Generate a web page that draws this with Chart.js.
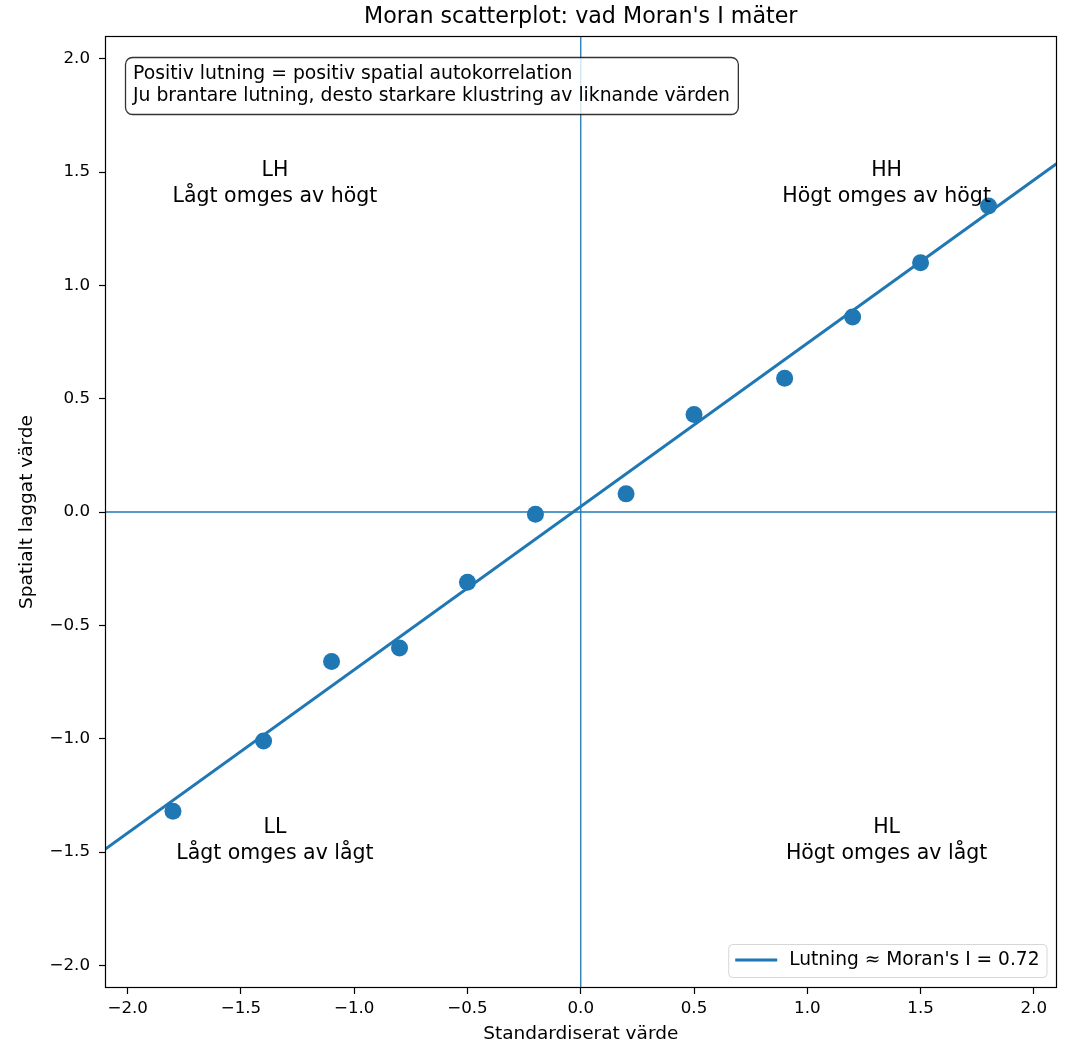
<!DOCTYPE html>
<html><head><meta charset="utf-8">
<script src="https://cdn.jsdelivr.net/npm/chart.js@4/dist/chart.umd.min.js"></script>
<style>html,body{margin:0;padding:0;background:#fff;} canvas{display:block;}</style>
</head><body>
<canvas id="c" width="1065" height="1045"></canvas>
<script>
const xValues = [-1.8, -1.4, -1.1, -0.8, -0.5, -0.2, 0.2, 0.5, 0.9, 1.2, 1.5, 1.8];
const yValues = [-1.32, -1.01, -0.66, -0.60, -0.31, -0.01, 0.08, 0.43, 0.59, 0.86, 1.10, 1.35];
const slope = 0.72;
const intercept = 0.024;
const axisMin = -2.1, axisMax = 2.1;
const tickValues = [-2.0, -1.5, -1.0, -0.5, 0.0, 0.5, 1.0, 1.5, 2.0];
const quadCodes = ['LH', 'HH', 'LL', 'HL'];
const quadTexts = ['Lågt omges av högt', 'Högt omges av högt', 'Lågt omges av lågt', 'Högt omges av lågt'];
const quadX = [-1.35, 1.35, -1.35, 1.35];
const quadY = [1.45, 1.45, -1.45, -1.45];
const titleText = "Moran scatterplot: vad Moran's I mäter";
const xLabel = 'Standardiserat värde';
const yLabel = 'Spatialt laggat värde';
const infoLines = ['Positiv lutning = positiv spatial autokorrelation', 'Ju brantare lutning, desto starkare klustring av liknande värden'];
const legendLabel = "Lutning \u2248 Moran's I = " + slope.toFixed(2);

const BLUE = '#1f77b4';
const FONT = 'DejaVu Sans';

const points = xValues.map((x, i) => ({x: x, y: yValues[i]}));
const fitLine = [axisMin, axisMax].map(x => ({x: x, y: intercept + slope * x}));

function fmt(v) {
  return (v < 0 ? '\u2212' : '') + Math.abs(v).toFixed(1);
}

function roundRect(ctx, x, y, w, h, r) {
  ctx.beginPath();
  ctx.moveTo(x + r, y);
  ctx.lineTo(x + w - r, y);
  ctx.arcTo(x + w, y, x + w, y + r, r);
  ctx.lineTo(x + w, y + h - r);
  ctx.arcTo(x + w, y + h, x + w - r, y + h, r);
  ctx.lineTo(x + r, y + h);
  ctx.arcTo(x, y + h, x, y + h - r, r);
  ctx.lineTo(x, y + r);
  ctx.arcTo(x, y, x + r, y, r);
  ctx.closePath();
}

const decor = {
  id: 'decor',
  beforeDraw(chart) {
    const ctx = chart.ctx;
    ctx.save();
    ctx.fillStyle = '#fff';
    ctx.fillRect(0, 0, chart.width, chart.height);
    ctx.restore();
  },
  afterDatasetsDraw(chart) {
    const ctx = chart.ctx;
    const a = chart.chartArea;
    const xs = chart.scales.x, ys = chart.scales.y;
    ctx.save();
    // quadrant labels
    ctx.fillStyle = '#000';
    ctx.font = '20.5px "' + FONT + '"';
    ctx.textAlign = 'center';
    ctx.textBaseline = 'middle';
    for (let i = 0; i < quadCodes.length; i++) {
      const px = xs.getPixelForValue(quadX[i]);
      const py = ys.getPixelForValue(quadY[i]);
      ctx.fillText(quadCodes[i], px, py - 13);
      ctx.fillText(quadTexts[i], px, py + 13);
    }
    // info box
    ctx.font = '18.8px "' + FONT + '"';
    ctx.textAlign = 'left';
    const bx = a.left + 20, by = a.top + 21;
    let tw = 0;
    infoLines.forEach(t => { tw = Math.max(tw, ctx.measureText(t).width); });
    const bw = tw + 16, bh = 57;
    roundRect(ctx, bx + 0.5, by + 0.5, bw, bh, 7);
    ctx.fillStyle = 'rgba(255,255,255,0.8)';
    ctx.fill();
    ctx.strokeStyle = 'rgba(0,0,0,0.8)';
    ctx.lineWidth = 1.3;
    ctx.stroke();
    ctx.fillStyle = '#000';
    ctx.fillText(infoLines[0], bx + 8, by + 17);
    ctx.fillText(infoLines[1], bx + 8, by + 39);
    // legend
    ctx.font = '18.6px "' + FONT + '"';
    const lw = ctx.measureText(legendLabel).width;
    const lx1 = a.right - 10, lx0 = lx1 - (lw + 68);
    const ly0 = a.bottom - 44, lh = 33;
    roundRect(ctx, lx0 + 0.5, ly0 + 0.5, lx1 - lx0, lh, 4);
    ctx.fillStyle = 'rgba(255,255,255,0.8)';
    ctx.fill();
    ctx.strokeStyle = '#d6d6d6';
    ctx.lineWidth = 1;
    ctx.stroke();
    ctx.beginPath();
    ctx.moveTo(lx0 + 7, ly0 + 16);
    ctx.lineTo(lx0 + 49, ly0 + 16);
    ctx.strokeStyle = BLUE;
    ctx.lineWidth = 3;
    ctx.stroke();
    ctx.fillStyle = '#000';
    ctx.fillText(legendLabel, lx0 + 61, ly0 + 16);
    // frame
    ctx.strokeStyle = '#000';
    ctx.lineWidth = 1.2;
    ctx.strokeRect(Math.round(a.left) + 0.5, Math.round(a.top) + 0.5, Math.round(a.right - a.left) - 1, Math.round(a.bottom - a.top) - 1);
    // title
    ctx.font = '22.2px "' + FONT + '"';
    ctx.textAlign = 'center';
    ctx.textBaseline = 'middle';
    ctx.fillText(titleText, (a.left + a.right) / 2, 17);
    ctx.restore();
  }
};

const tickOpts = {
  color: '#000',
  font: {family: FONT, size: 16.7},
  callback: v => fmt(v),
  autoSkip: false,
  maxRotation: 0
};

new Chart(document.getElementById('c'), {
  type: 'scatter',
  data: {
    datasets: [
      {label: legendLabel, data: fitLine, showLine: true, borderColor: BLUE, borderWidth: 3, pointRadius: 0, order: 0},
      {label: 'points', data: points, backgroundColor: BLUE, borderWidth: 0, pointRadius: 8.5, pointHoverRadius: 8.5, order: 1},
      {label: 'h0', data: [{x: axisMin, y: 0}, {x: axisMax, y: 0}], showLine: true, borderColor: BLUE, borderWidth: 1.3, pointRadius: 0, order: 2},
      {label: 'v0', data: [{x: 0, y: axisMin}, {x: 0, y: axisMax}], showLine: true, borderColor: BLUE, borderWidth: 1.3, pointRadius: 0, order: 2}
    ]
  },
  options: {
    responsive: false,
    animation: false,
    devicePixelRatio: 1,
    layout: {padding: {top: 36, right: 3, left: 0, bottom: 0}},
    plugins: {legend: {display: false}, tooltip: {enabled: false}, title: {display: false}},
    scales: {
      x: {
        type: 'linear', min: axisMin, max: axisMax,
        afterBuildTicks: s => { s.ticks = tickValues.map(v => ({value: v})); },
        afterFit: s => { s.height = 57; },
        ticks: Object.assign({padding: 5}, tickOpts),
        grid: {drawOnChartArea: false, drawTicks: true, tickLength: 6, tickColor: '#000', tickWidth: 1.2},
        border: {display: false},
        title: {display: true, text: xLabel, color: '#000', font: {family: FONT, size: 18.5}, padding: {top: 0, bottom: 0}}
      },
      y: {
        type: 'linear', min: axisMin, max: axisMax,
        afterBuildTicks: s => { s.ticks = tickValues.map(v => ({value: v})); },
        afterFit: s => { s.width = 105; },
        ticks: Object.assign({padding: 9}, tickOpts),
        grid: {drawOnChartArea: false, drawTicks: true, tickLength: 6, tickColor: '#000', tickWidth: 1.2},
        border: {display: false},
        title: {display: true, text: yLabel, color: '#000', font: {family: FONT, size: 18.5}, padding: {top: 16, bottom: 0}}
      }
    }
  },
  plugins: [decor]
});
</script>
</body></html>
